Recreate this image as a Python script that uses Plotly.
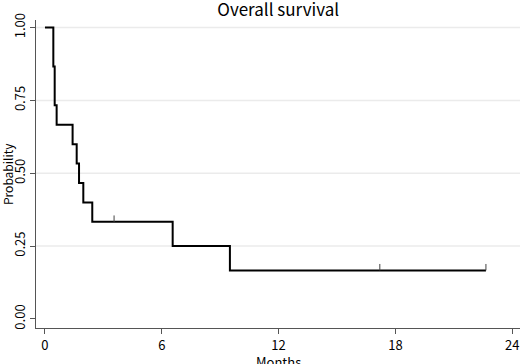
import plotly.graph_objects as go

# Kaplan-Meier step data (months, survival probability)
times = [0, 0.43, 0.5, 0.6, 1.42, 1.63, 1.75, 1.97, 2.43, 6.56, 9.5, 22.65]
surv = [1.0, 0.8667, 0.7333, 0.6667, 0.6, 0.5333, 0.4667, 0.4, 0.3333, 0.25, 0.1667, 0.1667]
censor_times = [3.55, 17.2, 22.65]
censor_surv = [0.3333, 0.1667, 0.1667]
x_ticks = [0, 6, 12, 18, 24]
y_ticks = [0.0, 0.25, 0.5, 0.75, 1.0]
y_tick_labels = ["0.00", "0.25", "0.50", "0.75", "1.00"]
grid_vals = [0.25, 0.5, 0.75, 1.0]

FONT = "Noto Sans CJK JP"
fig = go.Figure()

fig.add_trace(go.Scatter(x=times, y=surv, mode="lines", line=dict(color="black", width=2, shape="hv"),
                         showlegend=False, hoverinfo="skip"))

# censor ticks drawn upward from curve
cx, cy = [], []
for t, s in zip(censor_times, censor_surv):
    cx += [t, t, None]
    cy += [s, s + 0.022, None]
fig.add_trace(go.Scatter(x=cx, y=cy, mode="lines", line=dict(color="#444", width=1),
                         showlegend=False, hoverinfo="skip"))

for g in grid_vals:
    fig.add_shape(type="line", xref="paper", yref="y", x0=0, x1=1, y0=g, y1=g,
                  line=dict(color="#ebebeb", width=1.5), layer="below")

fig.add_annotation(text="Months", xref="paper", yref="paper", x=0.5, y=0, yshift=-22,
                   xanchor="center", yanchor="top", showarrow=False,
                   font=dict(family=FONT, size=13, color="black"))
fig.add_annotation(text="Probability", xref="paper", yref="paper", x=0, y=0.5, xshift=-29,
                   xanchor="center", yanchor="middle", textangle=-90, showarrow=False,
                   font=dict(family=FONT, size=12, color="black"))

fig.update_layout(
    width=520, height=364,
    margin=dict(l=36, r=0, t=20, b=36, autoexpand=False),
    paper_bgcolor="white", plot_bgcolor="white",
    title=dict(text="Overall survival", x=0.535, xanchor="center", yref="container", y=0.99,
               yanchor="top", pad=dict(t=0, b=0),
               font=dict(family=FONT, size=17, color="black")),
    font=dict(family=FONT, size=12, color="black"),
    xaxis=dict(range=[-0.46, 24.4], tickvals=x_ticks, showgrid=False, zeroline=False,
               showline=True, linecolor="#555", linewidth=1, ticks="outside", ticklen=5,
               tickcolor="#555", tickfont=dict(size=13), automargin=False),
    yaxis=dict(range=[-0.031, 1.026], tickvals=y_ticks, ticktext=y_tick_labels, tickangle=-90,
               showgrid=False, zeroline=False, showline=True, linecolor="#555", linewidth=1,
               ticks="outside", ticklen=5, tickcolor="#555", tickfont=dict(size=13),
               automargin=False),
)

fig.write_html("out.html", config={"displayModeBar": False},
               post_script="document.body.style.margin='0';")
